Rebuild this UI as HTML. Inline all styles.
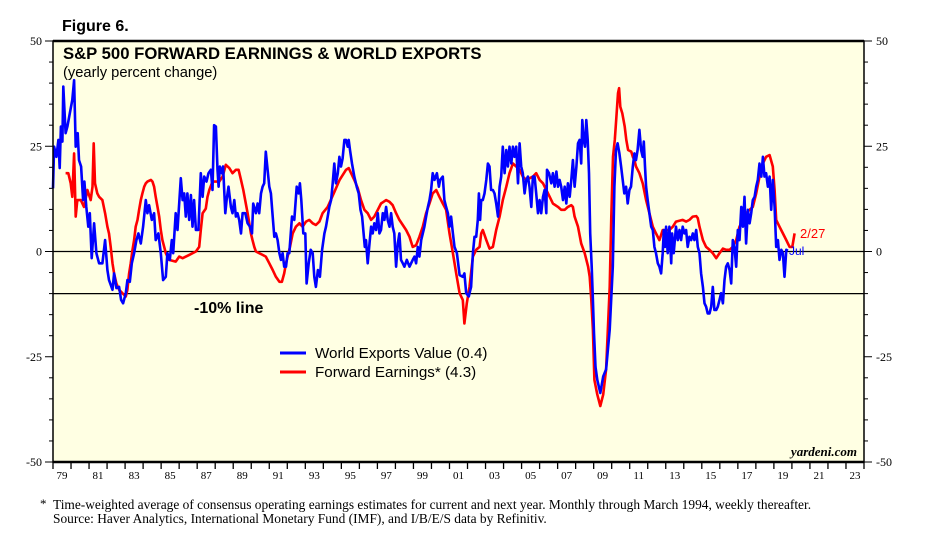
<!DOCTYPE html>
<html><head><meta charset="utf-8"><style>
body{margin:0;background:#fff;width:927px;height:551px;overflow:hidden}
svg{display:block}
.serif{font-family:"Liberation Serif",serif}
.sans{font-family:"Liberation Sans",sans-serif}
</style></head><body>
<svg id="chart" width="927" height="551">
<text x="62" y="31" class="sans" font-size="16" font-weight="bold">Figure 6.</text>
<rect x="53" y="41" width="811" height="421" fill="#ffffe3"/>
<g id="grid"></g>
<g id="series"></g>
<rect x="53" y="41" width="811" height="421" fill="none" stroke="#000" stroke-width="1.5"/>
<line x1="53" y1="41" x2="864" y2="41" stroke="#000" stroke-width="2.5"/>
<line x1="53" y1="462" x2="864" y2="462" stroke="#000" stroke-width="2.5"/>
<text x="63" y="59" class="sans" font-size="16.7" font-weight="bold">S&amp;P 500 FORWARD EARNINGS &amp; WORLD EXPORTS</text>
<text x="63" y="77" class="sans" font-size="14.7">(yearly percent change)</text>
<text x="194" y="313" class="sans" font-size="16" font-weight="bold">-10% line</text>
<g>
<line x1="280" y1="353" x2="306" y2="353" stroke="#0000ff" stroke-width="3"/>
<text x="315" y="358" class="sans" font-size="15.2">World Exports Value (0.4)</text>
<line x1="280" y1="372" x2="306" y2="372" stroke="#ff0000" stroke-width="3"/>
<text x="315" y="377" class="sans" font-size="15.2">Forward Earnings* (4.3)</text>
</g>
<text x="857" y="456" text-anchor="end" class="serif" font-size="13" font-weight="bold" font-style="italic">yardeni.com</text>
<text x="800" y="238" class="sans" font-size="13" fill="#ff0000">2/27</text>
<text x="789" y="255" class="sans" font-size="12" fill="#0000ff">Jul</text>
<text x="40" y="508" class="serif" font-size="13">*</text>
<text x="53" y="509" class="serif" font-size="13.4">Time-weighted average of consensus operating earnings estimates for current and next year. Monthly through March 1994, weekly thereafter.</text>
<text x="53" y="523" class="serif" font-size="13.4">Source: Haver Analytics, International Monetary Fund (IMF), and I/B/E/S data by Refinitiv.</text>
</svg>
<script>
const yTicks=[50,25,0,-25,-50];
const xYears=[1979,1981,1983,1985,1987,1989,1991,1993,1995,1997,1999,2001,2003,2005,2007,2009,2011,2013,2015,2017,2019,2021,2023];
const xLabels=["79","81","83","85","87","89","91","93","95","97","99","01","03","05","07","09","11","13","15","17","19","21","23"];
const refLines=[0,-10];
const exportsDates=[1979.0,1979.06,1979.19,1979.3,1979.37,1979.44,1979.52,1979.57,1979.7,1979.8,1979.93,1980.07,1980.17,1980.26,1980.37,1980.44,1980.56,1980.67,1980.74,1980.85,1980.96,1981.04,1981.15,1981.28,1981.41,1981.56,1981.74,1981.89,1982.02,1982.11,1982.3,1982.39,1982.52,1982.67,1982.78,1982.89,1983.04,1983.13,1983.26,1983.37,1983.5,1983.63,1983.74,1983.87,1984.0,1984.15,1984.24,1984.33,1984.48,1984.61,1984.7,1984.85,1984.98,1985.11,1985.26,1985.35,1985.48,1985.59,1985.67,1985.81,1985.91,1986.09,1986.19,1986.28,1986.37,1986.46,1986.56,1986.65,1986.74,1986.83,1986.93,1987.07,1987.2,1987.3,1987.39,1987.52,1987.63,1987.76,1987.85,1987.94,1988.04,1988.13,1988.19,1988.26,1988.37,1988.44,1988.56,1988.63,1988.74,1988.87,1988.96,1989.06,1989.15,1989.24,1989.33,1989.43,1989.52,1989.67,1989.8,1989.93,1990.04,1990.11,1990.26,1990.35,1990.44,1990.54,1990.63,1990.72,1990.81,1990.91,1991.0,1991.09,1991.19,1991.28,1991.37,1991.46,1991.56,1991.65,1991.74,1991.83,1991.93,1992.02,1992.11,1992.26,1992.39,1992.52,1992.63,1992.7,1992.78,1992.89,1993.0,1993.07,1993.19,1993.3,1993.41,1993.5,1993.59,1993.7,1993.81,1993.93,1994.06,1994.15,1994.24,1994.33,1994.43,1994.52,1994.61,1994.7,1994.8,1994.89,1994.98,1995.07,1995.17,1995.26,1995.35,1995.41,1995.48,1995.59,1995.72,1995.85,1995.96,1996.06,1996.15,1996.22,1996.3,1996.37,1996.46,1996.56,1996.65,1996.74,1996.83,1996.93,1997.02,1997.11,1997.2,1997.3,1997.39,1997.48,1997.57,1997.67,1997.76,1997.85,1997.94,1998.04,1998.13,1998.22,1998.31,1998.41,1998.5,1998.63,1998.78,1998.96,1999.06,1999.15,1999.24,1999.33,1999.43,1999.52,1999.61,1999.7,1999.8,1999.89,1999.98,2000.07,2000.17,2000.3,2000.41,2000.48,2000.63,2000.72,2000.81,2000.91,2001.0,2001.09,2001.19,2001.28,2001.41,2001.56,2001.74,2001.83,2001.93,2002.07,2002.11,2002.2,2002.3,2002.39,2002.48,2002.57,2002.63,2002.7,2002.76,2002.85,2002.94,2003.04,2003.13,2003.22,2003.31,2003.41,2003.5,2003.59,2003.69,2003.78,2003.87,2003.96,2004.06,2004.15,2004.24,2004.33,2004.43,2004.52,2004.61,2004.7,2004.8,2004.89,2004.98,2005.07,2005.17,2005.26,2005.35,2005.44,2005.54,2005.63,2005.72,2005.81,2005.91,2006.0,2006.09,2006.19,2006.28,2006.37,2006.41,2006.52,2006.65,2006.74,2006.83,2006.93,2007.02,2007.11,2007.2,2007.3,2007.39,2007.48,2007.57,2007.67,2007.76,2007.85,2007.94,2008.04,2008.13,2008.22,2008.31,2008.37,2008.44,2008.52,2008.59,2008.67,2008.74,2008.81,2008.89,2008.96,2009.02,2009.1,2009.2,2009.37,2009.53,2009.69,2009.89,2010.06,2010.15,2010.24,2010.33,2010.43,2010.52,2010.61,2010.7,2010.8,2010.89,2010.98,2011.07,2011.17,2011.26,2011.35,2011.44,2011.54,2011.63,2011.72,2011.78,2011.85,2011.91,2012.0,2012.09,2012.19,2012.28,2012.37,2012.46,2012.56,2012.65,2012.74,2012.83,2012.89,2012.96,2013.02,2013.11,2013.2,2013.3,2013.35,2013.44,2013.57,2013.67,2013.76,2013.85,2013.94,2014.04,2014.13,2014.22,2014.31,2014.41,2014.5,2014.59,2014.69,2014.78,2014.87,2014.96,2015.06,2015.15,2015.24,2015.33,2015.43,2015.52,2015.61,2015.7,2015.8,2015.89,2015.98,2016.07,2016.17,2016.26,2016.35,2016.44,2016.54,2016.63,2016.72,2016.81,2016.91,2017.0,2017.09,2017.19,2017.28,2017.37,2017.46,2017.56,2017.65,2017.74,2017.83,2017.93,2018.02,2018.11,2018.2,2018.3,2018.39,2018.48,2018.57,2018.67,2018.76,2018.85,2018.94,2019.04,2019.13,2019.22,2019.31,2019.41,2019.5,2019.59,2019.69,2019.78];
const exportsValues=[15,24.9,22.5,26.5,19.8,29.7,26.1,39.2,28.1,29.7,32.8,36,40.7,24.9,28.1,21.7,20.2,12.2,16.6,10.6,5.9,9.1,-1.6,6.7,-0.4,-2.8,-2.8,2.7,-4.4,-6.8,-9.1,-5.2,-8.7,-8.4,-11.5,-12.3,-9.9,-6.8,-7.2,-2.8,-0.4,2.7,4.3,1.9,5.9,12.2,9.1,11,7.5,9.1,2.7,4.3,-0.4,-6.8,-6,-0.4,-2,2.7,-0.4,9.1,5.1,17.4,12.2,13.8,8.3,13.8,7.5,13.4,5.9,12.2,5.1,5.1,18.6,13,17.8,16.6,18.6,19.4,14.6,30,29.7,19.4,15.4,20.2,18.6,20.2,9.1,12.2,15.4,10.6,9.1,12.2,8.3,9.1,7.5,4.3,9.1,9.1,6.7,5.9,4.3,11.4,9.1,11.4,9.1,13.8,15.4,16.2,23.7,19.4,15.4,13.8,8.3,3.5,4.3,2.7,-0.4,-2,-0.4,-3.6,-3.6,-0.4,-0.4,8.3,7.5,15.4,13.8,16.2,12.2,4.3,4.3,-7.6,-2.8,0.4,-0.4,-6,-8.4,-4.4,-6,0.4,4.3,5.9,8.3,10.6,12.2,16.2,20.9,16.2,18.6,22.5,20.2,22.1,26.5,26.5,24.9,26.5,24.1,20.9,17.8,15.4,13.8,9.9,8.3,5.1,1.1,2.7,-2.8,1.9,5.9,4.3,6.7,5.1,9.1,4.3,5.1,9.1,7.5,10.6,7.5,5.9,9.1,5.9,4.3,-3.6,1.9,4.3,-2,-2.8,-3.6,-2,-3.6,-2,-1.2,-2.8,1.1,-1.2,2.7,4.3,5.9,8.3,10.6,12.2,14.6,18.6,17,18.6,15.4,17,17.8,12.2,10.6,9.1,5.9,8.3,4.3,1.1,-0.4,-5.6,-6,-5.2,-9.9,-10.7,-9.9,-8.4,-0.4,3.5,3.5,7.5,13.8,7.5,12.2,12.2,13.8,17,20.9,20.2,14.6,14.6,13.8,11.4,8.3,15.4,17.8,24.9,18.6,24.1,20.2,24.9,20.9,24.9,22.5,24.9,16.2,25.7,20.2,18.6,13.8,17,17.8,15.4,10.6,17.8,17.8,13.8,9.1,12.2,9.1,13,14.6,9.1,19.4,18.6,16.2,18.6,15.4,19,15.4,17,15.4,12.2,15.4,11.4,16.2,13,17,21.7,15.4,20.2,25.7,26.5,20.9,31.2,26.5,24.9,31.2,26.5,18.6,4.3,-3.6,-11.5,-19.4,-27.4,-30.5,-33.6,-29.7,-28,-18.6,-3.6,15.4,24.1,25.7,23.3,20.2,17,13.8,15.4,11.4,14.6,15.4,20.2,23.3,21.7,24.1,28.9,24.1,22.5,26.1,20.2,15.4,12.2,9.1,5.9,5.1,1.1,-0.4,-2.8,-3.6,-5.2,-0.4,5.1,1.1,5.9,-0.4,5.9,-2.8,4.3,-0.4,5.9,2.7,5.1,2.7,5.9,4.3,5.1,1.1,3.5,2.7,4.3,2.7,5.1,1.1,-0.4,-5.2,-8.4,-12.3,-13.1,-14.7,-14.7,-13.1,-8.4,-13.9,-13.9,-13.1,-11.5,-9.9,-12.3,-6.8,-3.6,-2.8,-4.4,-7.6,2.7,1.1,-3.6,5.1,2.7,10.6,5.9,13,1.9,9.9,6.7,9.1,12.2,13,15.4,17,20.9,17.8,22.5,17.8,18.6,15.4,17.8,9.9,17,10.6,1.1,2.7,-2,0.4,-0.4,-6,0.4,0.2];
const earningsDates=[1979.7,1979.85,1979.98,1980.07,1980.17,1980.26,1980.35,1980.54,1980.72,1980.91,1981.09,1981.19,1981.26,1981.33,1981.46,1981.56,1981.74,1981.89,1982.02,1982.11,1982.2,1982.3,1982.39,1982.52,1982.67,1982.85,1983.04,1983.13,1983.22,1983.31,1983.41,1983.5,1983.59,1983.69,1983.78,1983.87,1983.96,1984.06,1984.15,1984.24,1984.43,1984.52,1984.61,1984.7,1984.8,1984.89,1984.98,1985.07,1985.17,1985.26,1985.44,1985.81,1986.0,1986.19,1986.56,1986.93,1987.11,1987.2,1987.3,1987.48,1987.57,1987.67,1987.85,1988.22,1988.41,1988.59,1988.78,1988.96,1989.15,1989.3,1989.43,1989.56,1989.7,1989.8,1989.89,1989.98,1990.07,1990.17,1990.26,1990.63,1990.81,1991.0,1991.19,1991.37,1991.56,1991.7,1991.83,1991.93,1992.02,1992.15,1992.3,1992.48,1992.67,1992.85,1993.04,1993.22,1993.41,1993.59,1993.78,1993.96,1994.24,1994.6,1994.9,1995.26,1995.41,1995.54,1995.72,1995.91,1996.09,1996.28,1996.46,1996.65,1996.83,1997.02,1997.2,1997.48,1997.67,1997.85,1998.04,1998.22,1998.41,1998.59,1998.78,1998.96,1999.15,1999.33,1999.52,1999.7,1999.89,2000.07,2000.26,2000.44,2000.63,2000.81,2001.0,2001.19,2001.37,2001.56,2001.74,2001.83,2001.96,2002.11,2002.3,2002.48,2002.67,2002.76,2002.85,2003.04,2003.22,2003.41,2003.59,2003.78,2003.96,2004.15,2004.33,2004.52,2004.7,2004.89,2005.07,2005.26,2005.63,2005.81,2006.0,2006.19,2006.37,2006.56,2006.74,2007.02,2007.2,2007.39,2007.57,2007.76,2007.85,2007.94,2008.13,2008.31,2008.5,2008.69,2008.78,2008.87,2008.96,2009.04,2009.2,2009.37,2009.53,2009.69,2009.89,2009.98,2010.07,2010.17,2010.26,2010.35,2010.41,2010.48,2010.59,2010.72,2010.81,2010.91,2011.09,2011.17,2011.26,2011.35,2011.54,2011.72,2011.91,2012.09,2012.28,2012.46,2012.65,2012.83,2013.2,2013.39,2013.57,2013.94,2014.13,2014.31,2014.5,2014.69,2014.78,2014.87,2015.06,2015.24,2015.43,2015.61,2015.8,2015.98,2016.17,2016.35,2016.54,2016.72,2016.91,2017.09,2017.28,2017.46,2017.65,2017.83,2018.02,2018.2,2018.39,2018.57,2018.76,2018.94,2019.04,2019.13,2019.31,2019.5,2019.69,2019.87,2020.02,2020.15];
const earningsValues=[18.6,18.6,16.2,13,23.3,8.3,12.2,12.2,10.6,14.6,12.2,15.4,25.7,16.2,13.8,13,12.2,9.1,5.9,4.3,1.1,-2.8,-5.2,-7.6,-9.1,-9.9,-10.7,-9.1,-5.2,-2.8,0.4,2.7,5.9,7.5,9.9,12.2,13.8,15.4,16.2,16.6,17,16.6,15.4,13,10.6,8.3,5.1,2.7,1.1,-0.4,-2,-2.4,-1.2,-1.6,-0.8,0,1.1,5.1,9.1,10.2,13,14.6,16.6,16.6,17.8,20.6,19.8,18.6,19.4,19.4,17,14.6,11.4,9.1,6.7,4.3,2.7,1.1,0,-0.8,-1.2,-2.8,-4.4,-6,-7.2,-7.2,-5.2,-2.8,-1.2,1.1,4.3,5.9,6.7,5.9,7.1,7.5,6.7,6.3,7.1,9.1,10.6,14,17,19.4,19.8,18.6,17,15,12.2,9.9,9.1,7.5,8.3,9.9,11.4,12.2,11.8,11,9.1,7.5,6.3,5.1,3.5,1.1,1.5,3.5,5.9,9.1,11.4,13.8,14.6,13,11.4,9.9,4.3,-0.4,-5.2,-9.9,-11.5,-17.1,-12.3,-8.4,-1.2,0.4,1.1,4.3,5.1,2.7,0.7,1.1,5.1,8.3,12.2,15.4,18.6,20.9,20.2,19.4,17.8,17,17.8,18.6,17,16.2,14.6,13,11.4,10.6,9.9,9.9,10.6,11,10.6,8.3,5.9,1.9,-0.4,-3.6,-6,-11.5,-18.6,-30.5,-34,-36.7,-34,-28,-8.4,8.3,22.5,26.5,32,37.6,38.8,34.4,32.8,29.7,26.5,24.1,23.7,22.5,21.7,20.2,18.6,16.2,12.2,9.1,5.9,4.3,2.7,5.1,5.1,5.9,7.1,7.5,7.1,7.5,8.3,8.4,7.9,5.9,2.7,1.1,0.4,-0.4,-1.6,-0.4,0.7,0.4,0.4,1.1,2.7,5.9,7.5,9.1,9.9,10.6,13.8,17.8,20.9,22.5,22.9,20.2,14.6,7.5,5.9,4.3,2.7,1.1,1.1,4.3];

const X0=53,X1=864,Y0=41,Y1=462;
const x=yr=>X0+(yr-1979)*(X1-X0)/45;
const y=v=>Y0+(50-v)*(Y1-Y0)/100;
const NS='http://www.w3.org/2000/svg';
const svg=document.getElementById('chart');
const grid=document.getElementById('grid');
const ser=document.getElementById('series');
function mk(tag,attrs,parent){const e=document.createElementNS(NS,tag);for(const k in attrs)e.setAttribute(k,attrs[k]);parent.appendChild(e);return e;}
for(let v=-50;v<=50;v+=5){
  const major=v%25===0;
  const l=mk('line',{x1:X0-(major?8:4),x2:X0,y1:y(v),y2:y(v),stroke:'#000','stroke-width':1},grid);
  
  
  const r=mk('line',{x1:X1,x2:X1+(major?8:4),y1:y(v),y2:y(v),stroke:'#000','stroke-width':1},grid);
  
  
}
yTicks.forEach(v=>{
  const t=mk('text',{x:X0-11,y:y(v)+4,'text-anchor':'end','font-size':12,class:'serif'},svg);
  t.textContent=v;
  
  
  const t2=mk('text',{x:X1+12,y:y(v)+4,'font-size':12,class:'serif'},svg);
  t2.textContent=v;
  
  
});
refLines.forEach(v=>{
  const l=mk('line',{x1:X0,x2:X1,y1:y(v),y2:y(v),stroke:'#000','stroke-width':1.2},grid);
  
  
});
for(let yr=1979;yr<=2024;yr++){
  const l=mk('line',{x1:x(yr),x2:x(yr),y1:Y1,y2:Y1+7,stroke:'#000','stroke-width':1.3},grid);
  
  
}
xYears.forEach((yr,i)=>{
  const t=mk('text',{x:x(yr+0.5),y:Y1+17,'text-anchor':'middle','font-size':11,class:'serif'},svg);
  t.textContent=xLabels[i];
  
  
});
function line(ds,vs,color,name){
  const d=ds.map((yr,i)=>(i?'L':'M')+x(yr).toFixed(1)+','+y(vs[i]).toFixed(1)).join('');
  const p=mk('path',{d:d,fill:'none',stroke:color,'stroke-width':2.6,'stroke-linejoin':'round'},ser);
  
  
}
line(earningsDates,earningsValues,'#ff0000','forward-earnings-line');
line(exportsDates,exportsValues,'#0000ff','world-exports-line');
</script>
</body></html>
